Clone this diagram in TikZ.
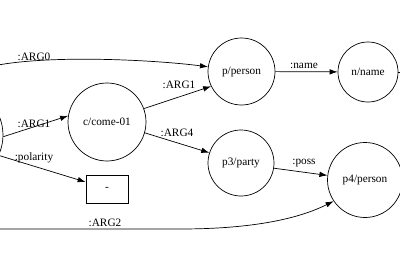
\documentclass[tikz,border=0pt]{standalone}
\usepackage{fontspec}
\setmainfont{Liberation Serif}
\usetikzlibrary{arrows.meta}
\begin{document}
\begin{tikzpicture}[x=1pt,y=-1pt,
  amr/.style={circle,draw,line width=0.7pt,inner sep=0pt,font=\fontsize{11.3}{13}\selectfont},
  valbox/.style={rectangle,draw,line width=0.7pt,minimum width=42pt,minimum height=28pt,inner sep=0pt,font=\fontsize{11.3}{13}\selectfont},
  edge/.style={draw,line width=0.7pt,-{Latex[length=8pt,width=5.5pt]}},
  plain/.style={draw,line width=0.7pt},
  lab/.style={font=\fontsize{11.3}{13}\selectfont,inner sep=0pt}]
\useasboundingbox (0,0) rectangle (400,268);
\clip (0,0) rectangle (400,268);
\node[amr,minimum size=96pt] (L) at (-45,135) {};
\node[amr,minimum size=67pt] (P) at (241.5,71.5) {p/person};
\node[amr,minimum size=60pt] (Nm) at (368,72) {n/name};
\node[amr,minimum size=78pt] (C) at (107,122) {c/come-01};
\node[amr,minimum size=66pt] (P3) at (241,163) {p3/party};
\node[amr,minimum size=75pt] (P4) at (365,180) {p4/person};
\node[valbox] (B) at (107,189) {-};
\coordinate (off) at (420,72);
% edges
\draw[edge] (L.north) .. controls (-35,50) and (140,58) .. (P.172);
\draw[edge] (L.-2) -- (C.171);
\draw[edge] (L.-25) -- (B.west |- 0,182);
\draw[edge] (L.south) .. controls (-40,229) and (-20,229) .. (10,229) -- (180,229) .. controls (255,229) and (300,218) .. (P4.214);
\draw[edge] (C.20) -- (P.206);
\draw[edge] (C.-16) -- (P3.162);
\draw[edge] (P) -- (Nm);
\draw[edge] (P3.-9) -- (P4.173);
\draw[plain] (Nm) -- (off);
% labels
\node[lab] (l0) at (34,57) {:ARG0};
\node[lab] (l1) at (34,124) {:ARG1};
\node[lab] (l2) at (34,158) {:polarity};
\node[lab] (l3) at (105,223) {:ARG2};
\node[lab] (l4) at (179,85) {:ARG1};
\node[lab] (l5) at (177,133) {:ARG4};
\node[lab] (l6) at (304,66) {:name};
\node[lab] (l7) at (304,163) {:poss};
\end{tikzpicture}
\end{document}
